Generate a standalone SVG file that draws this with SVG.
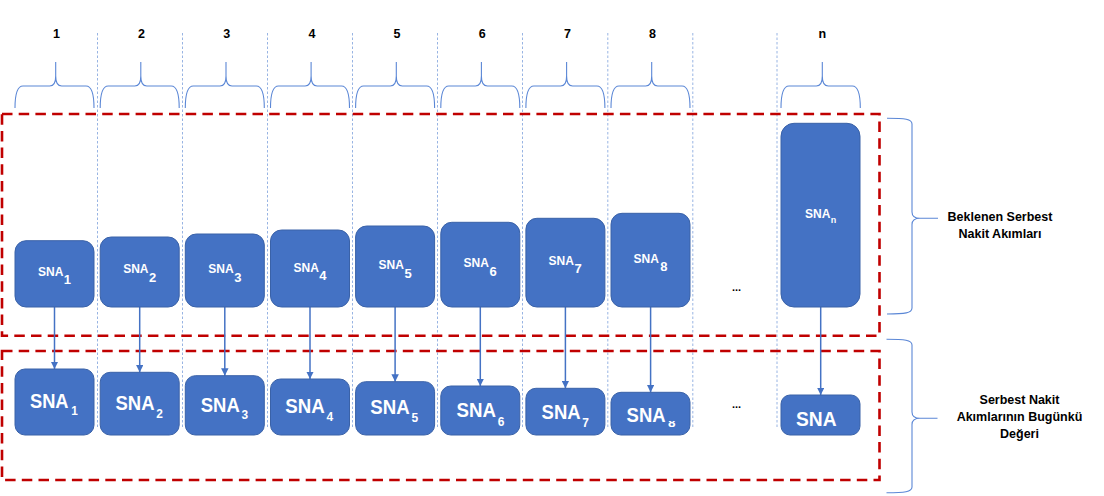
<svg xmlns="http://www.w3.org/2000/svg" width="1104" height="496" viewBox="0 0 1104 496">
<style>
.vline{stroke:#7EA1DC;stroke-width:0.8;stroke-dasharray:2.5 2;fill:none}
.brace{stroke:#5B87D6;stroke-width:1.1;fill:none}
.group{fill:none;stroke:#C00000;stroke-width:2.6;stroke-dasharray:10.5 6.2}
.box{fill:#4472C4;stroke:#3A62A8;stroke-width:1}
.num{font-family:"Liberation Sans",Arial,sans-serif;font-weight:bold;font-size:12.5px;fill:#000;text-anchor:middle}
.lt{font-family:"Liberation Sans",Arial,sans-serif;fill:#fff;font-weight:bold;font-size:12px}
.ls{font-size:13px}
.bt{font-family:"Liberation Sans",Arial,sans-serif;fill:#fff;font-weight:bold;font-size:21px}
.bs{font-size:13.5px}
.side{font-family:"Liberation Sans",Arial,sans-serif;font-weight:bold;font-size:12.5px;fill:#000;text-anchor:middle}
.dots{font-family:"Liberation Sans",Arial,sans-serif;font-weight:bold;font-size:11px;fill:#000;text-anchor:middle}
.arrow{stroke:#4472C4;stroke-width:1.5;fill:none;marker-end:url(#ah)}
</style>
<defs>
<marker id="ah" viewBox="0 0 10 10" refX="10" refY="5" markerWidth="7.5" markerHeight="7.5" markerUnits="userSpaceOnUse" orient="auto">
<path d="M0,0 L10,5 L0,10 z" fill="#4472C4"/>
</marker>
<clipPath id="clip8"><rect x="660" y="421" width="20" height="10"/></clipPath>
</defs>

<g id="grid">
<line class="vline" x1="97.5" y1="33" x2="97.5" y2="428"/>
<line class="vline" x1="182.5" y1="33" x2="182.5" y2="428"/>
<line class="vline" x1="267.5" y1="33" x2="267.5" y2="428"/>
<line class="vline" x1="352.5" y1="33" x2="352.5" y2="428"/>
<line class="vline" x1="437.5" y1="33" x2="437.5" y2="428"/>
<line class="vline" x1="522.5" y1="33" x2="522.5" y2="428"/>
<line class="vline" x1="607.8" y1="33" x2="607.8" y2="428"/>
<line class="vline" x1="692.8" y1="33" x2="692.8" y2="428"/>
<line class="vline" x1="777" y1="33" x2="777" y2="428"/>
</g>

<g id="periods">
<text class="num" x="56.5" y="37.5">1</text>
<text class="num" x="141.6" y="37.5">2</text>
<text class="num" x="226.8" y="37.5">3</text>
<text class="num" x="312" y="37.5">4</text>
<text class="num" x="397.1" y="37.5">5</text>
<text class="num" x="482.2" y="37.5">6</text>
<text class="num" x="567.4" y="37.5">7</text>
<text class="num" x="652.5" y="37.5">8</text>
<text class="num" x="822.3" y="37.5">n</text>
<path class="brace" d="M15,108 Q15,86 23,86 L49.7,86 Q55.7,86 55.7,76 L55.7,62 L55.7,76 Q55.7,86 61.7,86 L86,86 Q94,86 94,108"/>
<path class="brace" d="M100.2,108 Q100.2,86 108.2,86 L134.8,86 Q140.8,86 140.8,76 L140.8,62 L140.8,76 Q140.8,86 146.8,86 L171.2,86 Q179.2,86 179.2,108"/>
<path class="brace" d="M185.3,108 Q185.3,86 193.3,86 L220,86 Q226,86 226,76 L226,62 L226,76 Q226,86 232,86 L256.3,86 Q264.3,86 264.3,108"/>
<path class="brace" d="M270.5,108 Q270.5,86 278.5,86 L305.1,86 Q311.1,86 311.1,76 L311.1,62 L311.1,76 Q311.1,86 317.1,86 L341.5,86 Q349.5,86 349.5,108"/>
<path class="brace" d="M355.6,108 Q355.6,86 363.6,86 L390.3,86 Q396.3,86 396.3,76 L396.3,62 L396.3,76 Q396.3,86 402.3,86 L426.6,86 Q434.6,86 434.6,108"/>
<path class="brace" d="M440.8,108 Q440.8,86 448.8,86 L475.4,86 Q481.4,86 481.4,76 L481.4,62 L481.4,76 Q481.4,86 487.4,86 L511.8,86 Q519.8,86 519.8,108"/>
<path class="brace" d="M525.9,108 Q525.9,86 533.9,86 L560.6,86 Q566.6,86 566.6,76 L566.6,62 L566.6,76 Q566.6,86 572.6,86 L596.9,86 Q604.9,86 604.9,108"/>
<path class="brace" d="M611,108 Q611,86 619,86 L645.7,86 Q651.7,86 651.7,76 L651.7,62 L651.7,76 Q651.7,86 657.7,86 L682,86 Q690,86 690,108"/>
<path class="brace" d="M781,108 Q781,86 789,86 L816.3,86 Q822.3,86 822.3,76 L822.3,62 L822.3,76 Q822.3,86 828.3,86 L852.3,86 Q860.3,86 860.3,108"/>
</g>

<g id="groups">
<rect id="group-expected" class="group" x="2" y="114" width="877.5" height="221.7"/>
<rect id="group-present" class="group" x="2" y="351" width="877.5" height="129"/>
</g>

<g id="side-labels">
<path class="brace" d="M887,118.3 C905,118.3 912,119 912,124 L912,212 C912,216 915,218.3 920,218.3 L938,218.3 M920,218.3 C915,218.3 912,220.6 912,224.6 L912,308 C912,313 905,314 887,314"/>
<text class="side" x="1000" y="220.5">Beklenen Serbest</text>
<text class="side" x="1000" y="238.3">Nakit Akımları</text>
<path class="brace" d="M886.5,339.3 C904.5,339.3 912,340 912,345 L912,412 C912,416 915,418.3 920,418.3 L937.5,418.3 M920,418.3 C915,418.3 912,420.6 912,424.6 L912,487 C912,492 904.5,492.7 886.5,492.7"/>
<text class="side" x="1019.5" y="403.5">Serbest Nakit</text>
<text class="side" x="1019.5" y="421">Akımlarının Bugünkü</text>
<text class="side" x="1019.5" y="438.3">Değeri</text>
</g>

<g id="connectors">
<line class="arrow" x1="54.5" y1="307" x2="54.5" y2="369"/>
<line class="arrow" x1="139.7" y1="307" x2="139.7" y2="372.3"/>
<line class="arrow" x1="224.8" y1="307" x2="224.8" y2="375.7"/>
<line class="arrow" x1="310" y1="307" x2="310" y2="379"/>
<line class="arrow" x1="395.1" y1="307" x2="395.1" y2="381.7"/>
<line class="arrow" x1="480.3" y1="307" x2="480.3" y2="386"/>
<line class="arrow" x1="565.4" y1="307" x2="565.4" y2="388.3"/>
<line class="arrow" x1="650.6" y1="307" x2="650.6" y2="392.3"/>
<line class="arrow" x1="820.7" y1="307" x2="820.7" y2="395"/>
</g>

<g id="expected-1"><rect class="box" x="15" y="240.7" width="79" height="66.3" rx="11"/><text class="lt" x="38" y="276">SNA<tspan class="ls" dx="0.5" dy="8.3">1</tspan></text></g>
<g id="expected-2"><rect class="box" x="100.2" y="237" width="79" height="70" rx="11"/><text class="lt" x="123.2" y="273.3">SNA<tspan class="ls" dx="0.5" dy="9">2</tspan></text></g>
<g id="expected-3"><rect class="box" x="185.3" y="234" width="79" height="73" rx="11"/><text class="lt" x="208.3" y="272.7">SNA<tspan class="ls" dx="0.5" dy="8.8">3</tspan></text></g>
<g id="expected-4"><rect class="box" x="270.5" y="230" width="79" height="77" rx="11"/><text class="lt" x="293.5" y="271.7">SNA<tspan class="ls" dx="0.5" dy="7.8">4</tspan></text></g>
<g id="expected-5"><rect class="box" x="355.6" y="226" width="79" height="81" rx="11"/><text class="lt" x="378.6" y="269.3">SNA<tspan class="ls" dx="0.5" dy="8.2">5</tspan></text></g>
<g id="expected-6"><rect class="box" x="440.8" y="222.3" width="79" height="84.7" rx="11"/><text class="lt" x="463.6" y="266.7">SNA<tspan class="ls" dx="0.5" dy="8.9">6</tspan></text></g>
<g id="expected-7"><rect class="box" x="525.9" y="218.3" width="79" height="88.7" rx="11"/><text class="lt" x="548.6" y="265">SNA<tspan class="ls" dx="0.5" dy="8.4">7</tspan></text></g>
<g id="expected-8"><rect class="box" x="611" y="213.3" width="79" height="93.7" rx="11"/><text class="lt" x="633.5" y="263.3">SNA<tspan class="ls" dx="1.5" dy="7.7">8</tspan></text></g>
<g id="expected-dots"><text class="dots" x="736.5" y="291">...</text></g>
<g id="expected-n"><rect class="box" x="781" y="123.3" width="79" height="183.7" rx="13"/><text class="lt" x="805" y="218.3">SNA<tspan style="font-size:9px" dx="0.5" dy="4.7">n</tspan></text></g>

<g id="present-1"><rect class="box" x="15" y="369" width="79" height="66" rx="10"/><text class="bt" transform="translate(30,407.7) scale(0.87,1)">SNA<tspan class="bs" dx="3" dy="7.5">1</tspan></text></g>
<g id="present-2"><rect class="box" x="100.2" y="372.3" width="79" height="62.7" rx="10"/><text class="bt" transform="translate(115.5,410) scale(0.88,1)">SNA<tspan class="bs" dx="2" dy="8">2</tspan></text></g>
<g id="present-3"><rect class="box" x="185.3" y="375.7" width="79" height="59.3" rx="10"/><text class="bt" transform="translate(200.8,411.7) scale(0.88,1)">SNA<tspan class="bs" dx="2" dy="7.6">3</tspan></text></g>
<g id="present-4"><rect class="box" x="270.5" y="379" width="79" height="56" rx="10"/><text class="bt" transform="translate(285.2,413.3) scale(0.89,1)">SNA<tspan class="bs" dx="2" dy="7.7">4</tspan></text></g>
<g id="present-5"><rect class="box" x="355.6" y="381.7" width="79" height="53.3" rx="10"/><text class="bt" transform="translate(370.3,414.3) scale(0.89,1)">SNA<tspan class="bs" dx="2" dy="7.9">5</tspan></text></g>
<g id="present-6"><rect class="box" x="440.8" y="386" width="79" height="49" rx="10"/><text class="bt" transform="translate(456.6,417.3) scale(0.89,1)">SNA<tspan class="bs" dx="2" dy="8.3">6</tspan></text></g>
<g id="present-7"><rect class="box" x="525.9" y="388.3" width="79" height="46.7" rx="10"/><text class="bt" transform="translate(541.6,419) scale(0.88,1)">SNA<tspan class="bs" dx="2" dy="7.7">7</tspan></text></g>
<g id="present-8"><rect class="box" x="611" y="392.3" width="79" height="42.7" rx="10"/><text class="bt" transform="translate(626.6,422.3) scale(0.88,1)">SNA</text><text class="bt bs" x="668" y="426.6" clip-path="url(#clip8)">8</text></g>
<g id="present-dots"><text class="dots" x="736.5" y="407.5">...</text></g>
<g id="present-n"><rect class="box" x="781" y="395" width="79" height="40" rx="9"/><text class="bt" transform="translate(796,425.7) scale(0.915,1)">SNA</text></g>
</svg>
